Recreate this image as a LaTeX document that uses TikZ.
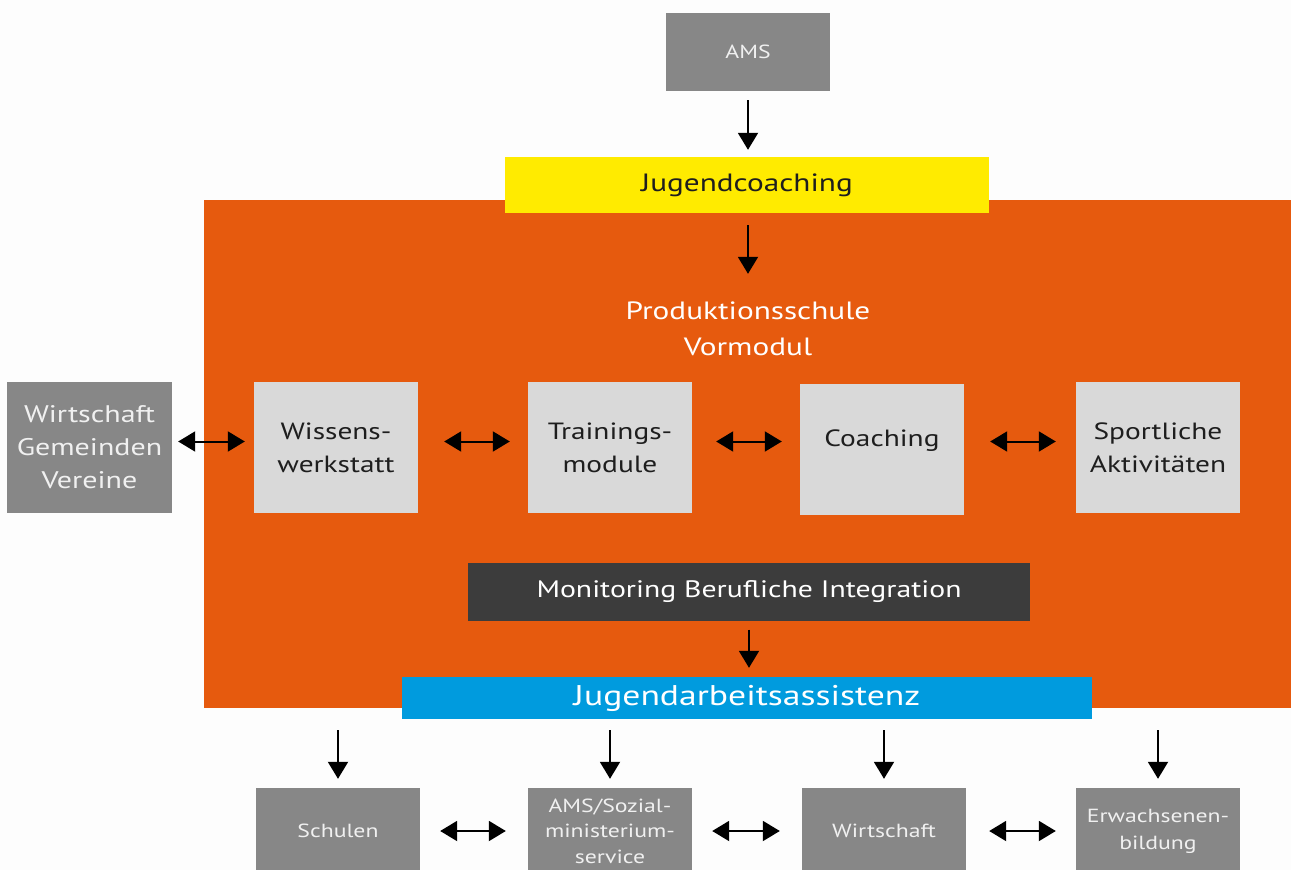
\documentclass[tikz,border=0pt]{standalone}
\usepackage{fontspec}
\setmainfont{PT Sans}[FakeStretch=1.25]
\usetikzlibrary{arrows.meta}
\definecolor{bgwhite}{HTML}{FDFDFD}
\definecolor{prodorange}{RGB}{230,90,14}
\definecolor{coachyellow}{RGB}{255,235,0}
\definecolor{boxgray}{RGB}{135,135,135}
\definecolor{modgray}{RGB}{217,217,217}
\definecolor{mondark}{RGB}{60,60,60}
\definecolor{jaablue}{RGB}{0,155,222}
\definecolor{ink}{RGB}{30,30,30}
\newcommand{\fs}[2]{\fontsize{#1}{#2}\selectfont}
\begin{document}
\begin{tikzpicture}[x=1pt,y=-1pt,
  plain/.style={rectangle, inner sep=0pt, align=center},
  extbox/.style={plain, fill=boxgray, text=white!94!black,
    minimum width=164pt, minimum height=#1},
  modbox/.style={plain, fill=modgray, text=ink,
    minimum width=164pt, minimum height=131pt, font=\fs{23.5}{33}},
  bar/.style={plain, minimum height=#1},
  arr/.style={-{Triangle[width=20pt,length=17pt]}, line width=2pt},
  dbl/.style={{Triangle[width=20pt,length=17pt]}-{Triangle[width=20pt,length=17pt]},
    line width=2pt},
]
% page and background
\fill[bgwhite] (0,0) rectangle (1291,870);
\useasboundingbox (0,0) rectangle (1291,870);
\clip (0,0) rectangle (1291,870);

% production school container
\node[plain, fill=prodorange, minimum width=1087pt, minimum height=508pt] (prod) at (747.5,454) {};

% top chain
\node[extbox=78pt, font=\fs{19}{25}] (ams) at (748,52) {AMS};
\node[bar=56pt, minimum width=484pt, fill=coachyellow, text=ink, font=\fs{25}{30}] (jc) at (747,185) {Jugendcoaching};
\node[plain, text=white, font=\fs{25}{36}] (ptitle) at (748,329) {Produktionsschule\\Vormodul};

% modules
\node[extbox=131pt, minimum width=165pt, font=\fs{24}{33}] (wgv) at (89.5,447.5) {Wirtschaft\\Gemeinden\\Vereine};
\node[modbox] (wissens) at (336,447.5) {Wissens-\\werkstatt};
\node[modbox] (training) at (610,447.5) {Trainings-\\module};
\node[modbox] (coach) at (882,449.5) {\raisebox{9pt}[\height][\depth]{Coaching}};
\node[modbox] (sport) at (1158,447.5) {Sportliche\\Aktivitäten};

% monitoring and assistance
\node[bar=58pt, minimum width=562pt, fill=mondark, text=white, font=\fs{23.8}{30}] (mon) at (749,591.5) {Monitoring Berufliche Integration};
\node[bar=42pt, minimum width=690pt, fill=jaablue, text=white, font=\fs{28.5}{32}] (jaa) at (747,698) {Jugendarbeitsassistenz};

% partners
\node[extbox=86pt, font=\fs{19}{25}] (schulen) at (338,831) {Schulen};
\node[extbox=86pt, font=\fs{19}{25.5}] (amssoz) at (610,831) {AMS/Sozial-\\ministerium-\\service};
\node[extbox=86pt, font=\fs{19}{25}] (wirt) at (884,831) {Wirtschaft};
\node[extbox=86pt, font=\fs{19}{27}] (erw) at (1158,831) {Erwachsenen-\\bildung};

% vertical flow
\draw[arr, shorten <=9pt, shorten >=7pt] (ams.south) -- (ams.south |- jc.north);
\draw[arr, shorten <=12pt, shorten >=28pt] (ptitle.north |- jc.south) -- (ptitle.north);
\draw[arr, shorten <=9pt, shorten >=9pt] (mon.south) -- (mon.south |- jaa.north);
\foreach \n in {schulen, amssoz, wirt, erw}
  \draw[arr, shorten <=11pt, shorten >=9pt] (\n.north |- jaa.south) -- (\n.north);

% exchanges between modules
\draw[dbl, shorten <=6pt, shorten >=9pt] ([yshift=6pt]wgv.east) -- ([yshift=6pt]wgv.east -| wissens.west);
\draw[dbl, shorten <=26pt, shorten >=18pt] ([yshift=6pt]wissens.east) -- ([yshift=6pt]wissens.east -| training.west);
\draw[dbl, shorten <=24pt, shorten >=18pt] ([yshift=6pt]training.east) -- ([yshift=6pt]training.east -| coach.west);
\draw[dbl, shorten <=26pt, shorten >=20pt] ([yshift=6pt]sport.west -| coach.east) -- ([yshift=6pt]sport.west);

% exchanges between partners
\draw[dbl, shorten <=20pt, shorten >=22pt] (schulen.east) -- (amssoz.west);
\draw[dbl, shorten <=20pt, shorten >=22pt] (amssoz.east) -- (wirt.west);
\draw[dbl, shorten <=23pt, shorten >=20pt] (wirt.east) -- (erw.west);
\end{tikzpicture}
\end{document}
